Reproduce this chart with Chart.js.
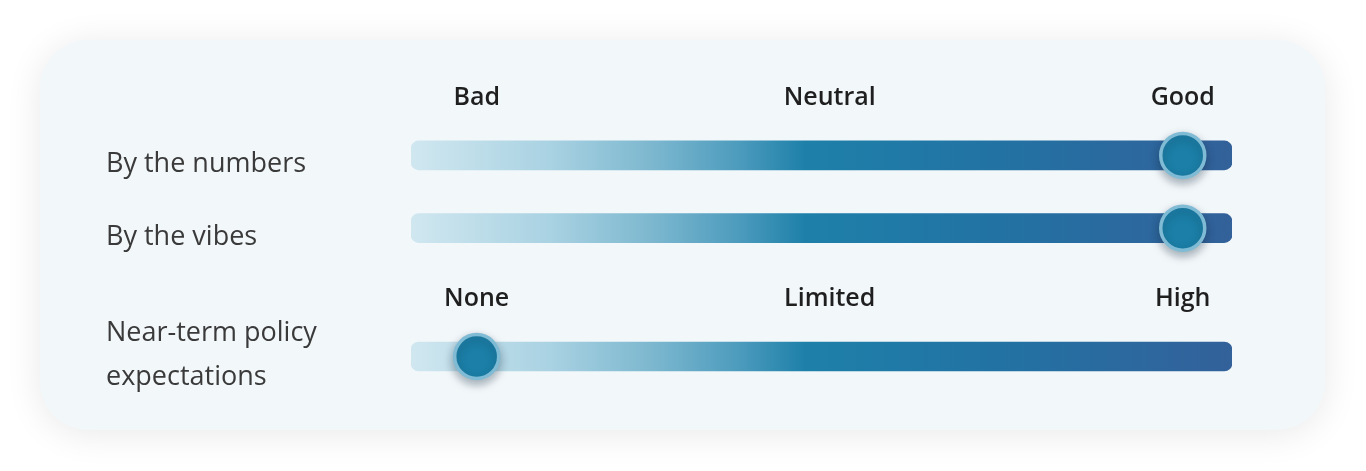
<!DOCTYPE html>
<html>
<head>
<meta charset="utf-8">
<script src="https://cdn.jsdelivr.net/npm/chart.js@4.4.1/dist/chart.umd.min.js"></script>
<style>
  html, body { margin: 0; padding: 0; background: #fff; width: 1366px; height: 471px; overflow: hidden; }
  .card {
    position: absolute; left: 40px; top: 40px; width: 1285px; height: 390px;
    border-radius: 48px; background: #f2f7fa;
    box-shadow: 0 4px 36px rgba(0, 0, 0, 0.09);
  }
  canvas { position: absolute; }
  #sentiment { left: 106px; top: 0; }
  #policy { left: 106px; top: 270px; }
</style>
</head>
<body>
<div class="card"></div>
<canvas id="sentiment" width="1166" height="290"></canvas>
<canvas id="policy" width="1166" height="170"></canvas>
<script>
// slider track runs from trackMin to trackMax
const trackMin = 0;
const trackMax = 100;

// top block: economy sentiment
const sentimentRows = ['By the numbers', 'By the vibes'];
const sentimentValues = [94, 94];
const sentimentTickValues = [8, 51, 94];
const sentimentTickLabels = ['Bad', 'Neutral', 'Good'];

// bottom block: policy expectations
const policyRows = [['Near-term policy', 'expectations']];
const policyValues = [8];
const policyTickValues = [8, 51, 94];
const policyTickLabels = ['None', 'Limited', 'High'];

function trackGradient(context) {
  const chart = context.chart;
  const area = chart.chartArea;
  if (!area) return '#1d7fa8';
  const g = chart.ctx.createLinearGradient(area.left, 0, area.right, 0);
  g.addColorStop(0, '#d0e7f0');
  g.addColorStop(0.17, '#a9d2e2');
  g.addColorStop(0.3, '#7ab6ce');
  g.addColorStop(0.4, '#4c9bbd');
  g.addColorStop(0.48, '#1e80a9');
  g.addColorStop(0.72, '#2272a3');
  g.addColorStop(1, '#33619a');
  return g;
}

// soft drop shadow under the knobs
const knobShadow = {
  id: 'knobShadow',
  beforeDatasetDraw(chart, args) {
    if (args.meta.type !== 'line') return;
    const c = chart.ctx;
    c.save();
    c.shadowColor = 'rgba(20, 40, 60, 0.35)';
    c.shadowBlur = 10;
    c.shadowOffsetY = 4;
  },
  afterDatasetDraw(chart, args) {
    if (args.meta.type !== 'line') return;
    chart.ctx.restore();
  }
};

function buildSlider(canvasId, rows, values, tickValues, tickLabels, padTop, padBottom, labelOffset) {
  return new Chart(document.getElementById(canvasId), {
    type: 'bar',
    data: {
      labels: rows,
      datasets: [
        {
          type: 'line',
          indexAxis: 'y',
          data: values,
          showLine: false,
          pointRadius: 22,
          pointHoverRadius: 22,
          pointBackgroundColor: '#1b7fa7',
          pointBorderColor: '#7fbbd4',
          pointBorderWidth: 3.5,
          pointHoverBorderWidth: 3.5,
          clip: false,
          order: 0
        },
        {
          data: rows.map(() => [trackMin, trackMax]),
          backgroundColor: trackGradient,
          borderRadius: 8,
          borderSkipped: false,
          barThickness: 29,
          order: 1
        }
      ]
    },
    options: {
      indexAxis: 'y',
      responsive: false,
      animation: false,
      events: [],
      layout: { padding: { top: padTop, bottom: padBottom, left: 0, right: 40 } },
      plugins: { legend: { display: false }, tooltip: { enabled: false } },
      scales: {
        x: {
          position: 'top',
          min: trackMin,
          max: trackMax,
          grid: { display: false, drawTicks: false },
          border: { display: false },
          afterBuildTicks: (scale) => { scale.ticks = tickValues.map(v => ({ value: v })); },
          afterFit: (scale) => { scale.height = 50; },
          ticks: {
            padding: 6,
            autoSkip: false,
            maxRotation: 0,
            color: '#1f1f1f',
            font: { family: '"Open Sans"', size: 25, weight: '600' },
            callback: (v, i) => tickLabels[i]
          }
        },
        y: {
          grid: { display: false, drawTicks: false },
          border: { display: false },
          afterFit: (scale) => { scale.width = 305; },
          ticks: {
            crossAlign: 'far',
            labelOffset: labelOffset,
            color: '#3a3a3a',
            font: { family: '"Open Sans"', size: 27, lineHeight: 1.63 }
          }
        }
      }
    },
    plugins: [knobShadow]
  });
}

buildSlider('sentiment', sentimentRows, sentimentValues, sentimentTickValues, sentimentTickLabels, 69, 25, 9);
buildSlider('policy', policyRows, policyValues, policyTickValues, policyTickLabels, 0, 47, -1);
</script>
</body>
</html>
